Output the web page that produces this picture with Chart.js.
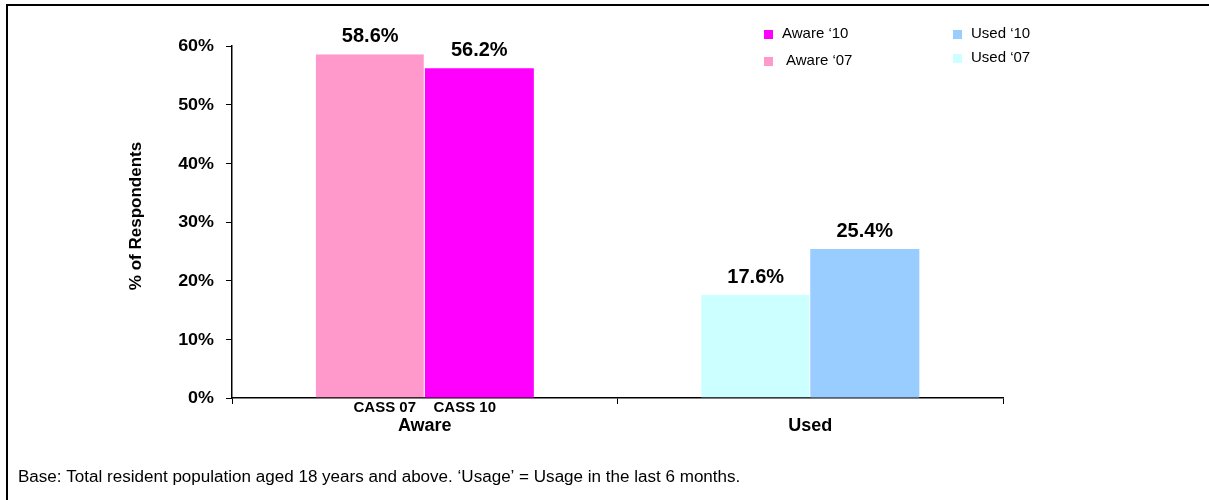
<!DOCTYPE html>
<html>
<head>
<meta charset="utf-8">
<script src="https://cdn.jsdelivr.net/npm/chart.js@4/dist/chart.umd.min.js"></script>
<style>
  html, body { margin: 0; padding: 0; background: #fff; }
  #wrap { position: relative; width: 1209px; height: 500px; }
</style>
</head>
<body>
<div id="wrap"><canvas id="c" width="1209" height="500"></canvas></div>
<script>
// Survey results: awareness and usage, CASS 2007 vs CASS 2010
const groups = ['Aware', 'Used'];
const surveys = ['CASS 07', 'CASS 10'];
const cass07 = [58.6, 17.6];
const cass10 = [56.2, 25.4];
const colors07 = ['#FF99CC', '#CCFFFF'];
const colors10 = ['#FF00FF', '#99CCFF'];
const legend10 = ['Aware \u201810', 'Used \u201810'];
const legend07 = ['Aware \u201807', 'Used \u201807'];
const yTicks = [0, 10, 20, 30, 40, 50, 60];
const yTitle = '% of Respondents';
const footnote = 'Base: Total resident population aged 18 years and above. \u2018Usage\u2019 = Usage in the last 6 months.';

const FONT = '"Liberation Sans", Arial, Helvetica, sans-serif';

// text drawn with a horizontal stretch factor
function stretchedText(ctx, text, x, y, sx, align) {
  ctx.save();
  ctx.translate(x, y);
  ctx.scale(sx, 1);
  ctx.textAlign = align;
  ctx.fillText(text, 0, 0);
  ctx.restore();
}

const decorations = {
  id: 'decorations',
  afterDraw(chart) {
    const ctx = chart.ctx;
    const x = chart.scales.x;
    const y = chart.scales.y;
    const metas = [chart.getDatasetMeta(0), chart.getDatasetMeta(1)];
    ctx.save();

    // page frame
    ctx.strokeStyle = '#000';
    ctx.lineWidth = 2;
    ctx.beginPath();
    ctx.moveTo(7, 500);
    ctx.lineTo(7, 5);
    ctx.lineTo(1209, 5);
    ctx.stroke();

    ctx.fillStyle = '#000';

    // y tick labels
    ctx.font = 'bold 16px ' + FONT;
    ctx.textBaseline = 'middle';
    yTicks.forEach(v => stretchedText(ctx, v + '%', 214, y.getPixelForValue(v) + 1, 1.12, 'right'));

    // value labels above each bar
    ctx.font = 'bold 20px ' + FONT;
    ctx.textAlign = 'center';
    ctx.textBaseline = 'alphabetic';
    metas.forEach((meta, di) => {
      const vals = di === 0 ? cass07 : cass10;
      meta.data.forEach((bar, i) => {
        ctx.fillText(vals[i].toFixed(1) + '%', bar.x, bar.y - 12);
      });
    });

    // survey labels under the first group, group names under each group
    const c0 = x.getPixelForValue(0);
    ctx.font = 'bold 15px ' + FONT;
    ctx.fillText(surveys[0], c0 - 40, 412);
    ctx.fillText(surveys[1], c0 + 40, 412);
    ctx.font = 'bold 18px ' + FONT;
    groups.forEach((g, i) => ctx.fillText(g, x.getPixelForValue(i), 431));

    // y axis title
    ctx.save();
    ctx.translate(141, 216);
    ctx.rotate(-Math.PI / 2);
    ctx.font = 'bold 17px ' + FONT;
    ctx.textAlign = 'center';
    ctx.fillText(yTitle, 0, 0);
    ctx.restore();

    // legend: two columns, CASS 10 entry above CASS 07 entry
    ctx.font = '15px ' + FONT;
    ctx.textAlign = 'left';
    ctx.textBaseline = 'middle';
    const cols = [764, 953];
    groups.forEach((g, i) => {
      const lx = cols[i];
      ctx.fillStyle = colors10[i];
      ctx.fillRect(lx, 30, 9, 9);
      ctx.fillStyle = '#000';
      ctx.fillText(legend10[i], lx + 18, 34);
      const y07 = i === 0 ? 61 : 58;
      ctx.fillStyle = colors07[i];
      ctx.fillRect(lx, y07 - 4, 9, 9);
      ctx.fillStyle = '#000';
      ctx.fillText(legend07[i], lx + (i === 0 ? 22 : 18), y07);
    });

    // footnote
    ctx.font = '16px ' + FONT;
    ctx.textBaseline = 'alphabetic';
    stretchedText(ctx, footnote, 18, 482, 1.065, 'left');
    ctx.restore();
  }
};

new Chart(document.getElementById('c'), {
  type: 'bar',
  data: {
    labels: groups,
    datasets: [
      { label: surveys[0], data: cass07, backgroundColor: colors07,
        borderColor: '#fff', borderWidth: { left: 0, top: 0, bottom: 0, right: 1 }, borderSkipped: false },
      { label: surveys[1], data: cass10, backgroundColor: colors10, borderWidth: 0 }
    ]
  },
  options: {
    responsive: false,
    animation: false,
    devicePixelRatio: 1,
    layout: { padding: { left: 0, top: 46, right: 206, bottom: 102 } },
    plugins: { legend: { display: false }, tooltip: { enabled: false } },
    datasets: { bar: { categoryPercentage: 0.566, barPercentage: 1.0 } },
    scales: {
      x: {
        ticks: { display: false },
        grid: { offset: true, drawOnChartArea: false, drawTicks: true, tickLength: 6, color: '#000', lineWidth: 1 },
        border: { display: true, color: '#000', width: 1.5 },
        afterFit(s) { s.height = 0; }
      },
      y: {
        min: yTicks[0],
        max: yTicks[yTicks.length - 1],
        afterBuildTicks(s) { s.ticks = yTicks.map(v => ({ value: v })); },
        ticks: { display: false },
        grid: { drawOnChartArea: false, drawTicks: true, tickLength: 6, color: '#000', lineWidth: 1 },
        border: { display: true, color: '#000', width: 1.5 },
        afterFit(s) { s.width = 232; }
      }
    }
  },
  plugins: [decorations]
});
</script>
</body>
</html>
